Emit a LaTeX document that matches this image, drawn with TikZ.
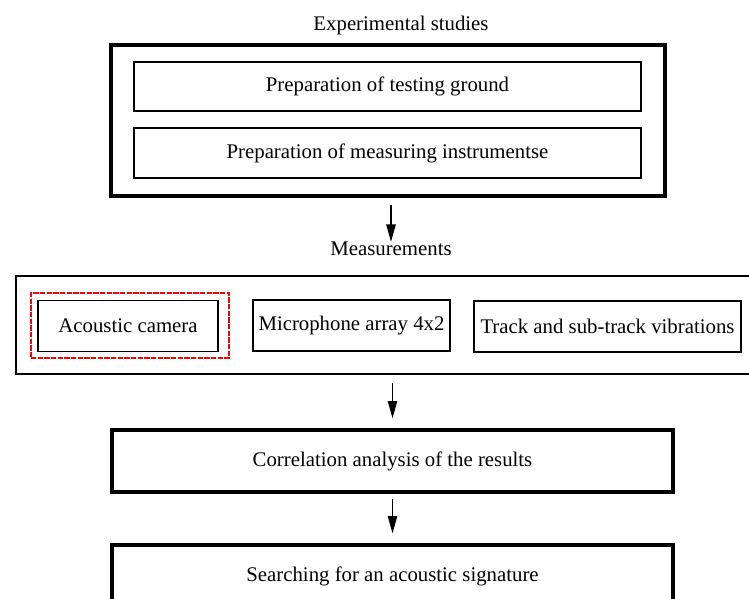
\documentclass[tikz,border=0pt]{standalone}
\usepackage{fontspec}
\setmainfont{Liberation Serif}
\usetikzlibrary{arrows.meta}
\begin{document}
\begin{tikzpicture}[
    x=0.75pt, y=-0.75pt,
    txt/.style={font=\fontsize{15.6}{18}\selectfont, inner sep=0pt},
    box/.style={draw, txt, line width=0.9pt},
    midbox/.style={box, line width=1.5pt},
    bigbox/.style={box, line width=2.5pt},
    hilite/.style={draw=red, line width=1.1pt, dash pattern=on 4pt off 1pt},
    arr/.style={-{Triangle[length=13pt,width=7pt]}, line width=1.1pt},
  ]
    \def\px{0.75pt}% one pixel of the reference
    \useasboundingbox (0,0) rectangle (749,599);
    \clip (0,0) rectangle (749,599);
    % Experimental studies
    \node[txt] (title) at (401,25) {Experimental studies};
    \node[bigbox, minimum width=554*\px, minimum height=151*\px] (expbox) at (388,120.5) {};
    \node[midbox, minimum width=507*\px, minimum height=49*\px] (ground) at (387.5,86.5) {Preparation of testing ground};
    \node[midbox, minimum width=507*\px, minimum height=50*\px] (instr) at (387.5,153) {Preparation of measuring instrumentse};
    % Measurements (box runs past the right edge)
    \node[txt] (meas) at (391,249) {Measurements};
    \node[box, line width=1.7pt, minimum width=754*\px, minimum height=98.5*\px] (measbox) at (393,325) {};
    \node[hilite, minimum width=198*\px, minimum height=65*\px] (mark) at (130,325.5) {};
    \node[box, minimum width=180*\px, minimum height=51*\px] (camera) at (128,325.7) {Acoustic camera};
    \node[box, minimum width=197*\px, minimum height=51*\px] (mic) at (351.5,325.5) {Microphone array 4x2};
    \node[box, minimum width=267*\px, minimum height=51*\px] (track) at (607.5,326.5) {Track and sub-track vibrations};
    % Analysis
    \node[bigbox, minimum width=561*\px, minimum height=62*\px] (corr) at (392.5,461) {Correlation analysis of the results};
    \node[bigbox, minimum width=561*\px, minimum height=62*\px] (search) at (392.5,576) {Searching for an acoustic signature};
    % Arrows
    \draw[arr, shorten <=5.25pt] (expbox.south -| meas.north) -- (meas.north);
    \draw[arr, shorten <=5.6pt, shorten >=7.5pt] (measbox.south -| corr.north) -- (corr.north);
    \draw[arr, shorten <=3.75pt, shorten >=7.5pt] (corr.south) -- (search.north);
\end{tikzpicture}
\end{document}
